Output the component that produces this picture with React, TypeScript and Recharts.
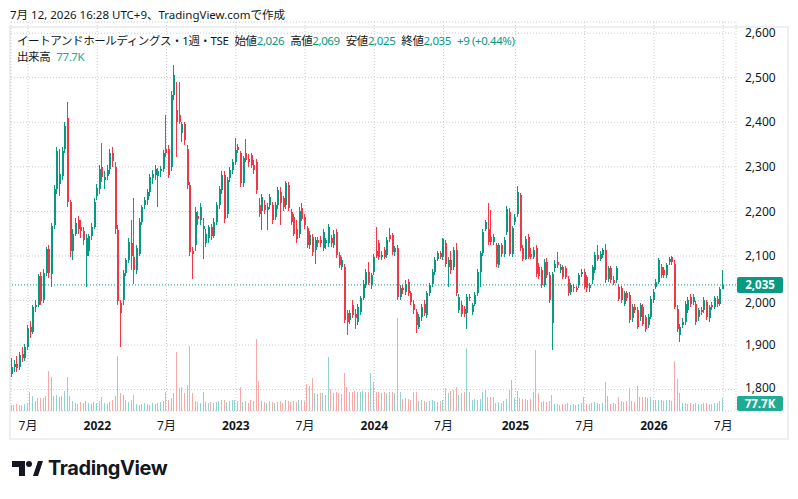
import React from 'react';
import { ComposedChart, Bar, XAxis, YAxis, CartesianGrid, ReferenceLine } from 'recharts';

// weekly bars, 2021-05-24 .. 2026-07-06
const opens = [
  1835, 1850, 1858, 1850, 1880, 1872, 1895, 1940, 1930, 1985,
  1990, 2055, 2000, 2062, 2115, 2060, 2170, 2250, 2262, 2280,
  2340, 2410, 2220, 2110, 2150, 2180, 2165, 2155, 2100, 2110,
  2145, 2165, 2235, 2250, 2300, 2270, 2280, 2295, 2330, 2300,
  2158, 1995, 2000, 2062, 2090, 2130, 2098, 2068, 2105, 2177,
  2214, 2225, 2244, 2275, 2281, 2280, 2290, 2296, 2341, 2341,
  2300, 2461, 2427, 2416, 2375, 2395, 2341, 2259, 2110, 2124,
  2190, 2180, 2160, 2128, 2140, 2165, 2145, 2177, 2215, 2248,
  2281, 2195, 2274, 2293, 2311, 2345, 2330, 2263, 2330, 2318,
  2326, 2304, 2311, 2215, 2200, 2214, 2203, 2214, 2214, 2188,
  2214, 2244, 2229, 2214, 2259, 2199, 2188, 2160, 2150, 2207,
  2188, 2162, 2124, 2143, 2113, 2135, 2135, 2117, 2128, 2130,
  2140, 2125, 2154, 2102, 2076, 2076, 1971, 1956, 1990, 1970,
  1952, 1975, 2005, 2034, 2064, 2035, 2064, 2110, 2128, 2098,
  2113, 2102, 2147, 2147, 2109, 2117, 2008, 2027, 2020, 2042,
  2016, 1993, 1975, 1941, 1963, 1993, 1967, 2016, 2038, 2064,
  2094, 2106, 2098, 2128, 2076, 2091, 2076, 2113, 1978, 1990,
  1980, 1971, 2008, 1975, 1993, 2016, 2064, 2106, 2161, 2161,
  2143, 2132, 2124, 2079, 2124, 2105, 2154, 2199, 2105, 2176,
  2195, 2236, 2117, 2094, 2143, 2105, 2098, 2117, 2075, 2068,
  2034, 2087, 2057, 1950, 2072, 2087, 2068, 2075, 2072, 2049,
  2019, 2031, 2027, 2034, 2060, 2064, 2053, 2027, 2045, 2068,
  2102, 2094, 2102, 2113, 2049, 2072, 2046, 2046, 2031, 2027,
  1993, 2016, 2012, 1960, 1986, 1978, 1963, 1986, 1963, 1945,
  1963, 2001, 2030, 2042, 2075, 2068, 2057, 2087, 2098, 2083,
  1982, 1922, 1945, 1952, 1978, 2008, 1997, 1993, 1963, 1978,
  1978, 1997, 1960, 1990, 1985, 2004, 1993, 2026,
];

const highs = [
  1870, 1866, 1875, 1885, 1895, 1902, 1945, 1955, 1990, 2000,
  2060, 2065, 2070, 2120, 2125, 2175, 2260, 2345, 2340, 2345,
  2400, 2445, 2225, 2160, 2185, 2190, 2180, 2165, 2150, 2150,
  2175, 2230, 2262, 2305, 2353, 2290, 2305, 2340, 2345, 2310,
  2170, 2000, 2068, 2095, 2140, 2180, 2229, 2125, 2185, 2215,
  2232, 2250, 2285, 2292, 2305, 2298, 2302, 2338, 2416, 2350,
  2470, 2528, 2490, 2490, 2400, 2400, 2350, 2265, 2120, 2210,
  2200, 2218, 2185, 2160, 2170, 2172, 2185, 2220, 2258, 2290,
  2290, 2278, 2300, 2318, 2364, 2352, 2335, 2325, 2362, 2328,
  2332, 2315, 2318, 2230, 2240, 2225, 2218, 2240, 2222, 2220,
  2255, 2255, 2235, 2268, 2265, 2205, 2195, 2180, 2210, 2218,
  2195, 2168, 2155, 2150, 2142, 2142, 2145, 2160, 2140, 2172,
  2148, 2158, 2160, 2108, 2098, 2082, 1978, 1978, 2000, 1980,
  1992, 2010, 2045, 2070, 2087, 2062, 2105, 2165, 2135, 2110,
  2120, 2142, 2162, 2152, 2122, 2125, 2035, 2035, 2045, 2048,
  2022, 2000, 1982, 1970, 1992, 2000, 2022, 2040, 2070, 2098,
  2112, 2112, 2141, 2135, 2098, 2112, 2120, 2130, 2015, 1998,
  1988, 2015, 2015, 1995, 2018, 2070, 2112, 2160, 2180, 2218,
  2203, 2150, 2130, 2130, 2130, 2142, 2212, 2208, 2168, 2195,
  2257, 2242, 2125, 2145, 2150, 2118, 2120, 2125, 2085, 2075,
  2092, 2095, 2065, 2065, 2090, 2109, 2082, 2080, 2078, 2055,
  2040, 2038, 2032, 2062, 2070, 2070, 2058, 2040, 2080, 2108,
  2124, 2112, 2118, 2126, 2078, 2078, 2055, 2078, 2038, 2032,
  2022, 2022, 2018, 1992, 1992, 1985, 1995, 1992, 1968, 1970,
  2010, 2025, 2048, 2096, 2082, 2075, 2085, 2098, 2100, 2090,
  1990, 1948, 1960, 1998, 2008, 2014, 2014, 1998, 1984, 1985,
  2008, 2002, 1990, 1996, 2010, 2010, 2030, 2069,
];

const lows = [
  1828, 1840, 1840, 1845, 1862, 1865, 1890, 1915, 1925, 1975,
  1985, 1990, 1995, 2055, 2050, 2030, 2160, 2240, 2235, 2270,
  2330, 2210, 2098, 2090, 2145, 2150, 2140, 2125, 2030, 2100,
  2135, 2160, 2225, 2240, 2265, 2250, 2270, 2285, 2300, 2150,
  1990, 1896, 1990, 2055, 2085, 2068, 2038, 2060, 2100, 2170,
  2205, 2215, 2235, 2262, 2270, 2210, 2278, 2288, 2322, 2275,
  2290, 2450, 2322, 2395, 2355, 2350, 2250, 2100, 2049, 2110,
  2170, 2170, 2094, 2120, 2130, 2135, 2140, 2170, 2205, 2240,
  2175, 2185, 2265, 2285, 2305, 2330, 2255, 2255, 2310, 2300,
  2298, 2285, 2240, 2188, 2158, 2195, 2158, 2205, 2172, 2180,
  2205, 2170, 2200, 2205, 2200, 2170, 2145, 2130, 2140, 2178,
  2160, 2118, 2115, 2100, 2083, 2120, 2120, 2110, 2115, 2120,
  2120, 2118, 2095, 2072, 2068, 1950, 1922, 1948, 1960, 1937,
  1945, 1968, 2000, 2028, 2035, 2025, 2058, 2095, 2090, 2090,
  2092, 2095, 2132, 2102, 2100, 2000, 2000, 2015, 2012, 2010,
  1990, 1970, 1926, 1935, 1955, 1965, 1960, 2010, 2030, 2058,
  2088, 2092, 2090, 2075, 2031, 2060, 2068, 2010, 1972, 1962,
  1962, 1937, 1998, 1968, 1988, 2010, 2030, 2100, 2155, 2125,
  2125, 2125, 2075, 2072, 2098, 2098, 2148, 2100, 2098, 2170,
  2188, 2110, 2088, 2090, 2092, 2092, 2092, 2052, 2048, 2028,
  2030, 2050, 1995, 1888, 2065, 2072, 2062, 2048, 2048, 2010,
  2012, 2020, 2018, 2028, 2052, 2025, 2020, 2020, 2038, 2062,
  2088, 2088, 2095, 2040, 2042, 2040, 2035, 2040, 1998, 1995,
  1988, 1998, 1950, 1952, 1972, 1935, 1955, 1942, 1930, 1938,
  1958, 1995, 2025, 2036, 2050, 2050, 2050, 2080, 2080, 1980,
  1930, 1907, 1938, 1946, 1972, 1986, 1990, 1945, 1955, 1968,
  1972, 1956, 1952, 1978, 1980, 1986, 1988, 2025,
];

const closes = [
  1850, 1858, 1848, 1878, 1872, 1895, 1938, 1930, 1985, 1990,
  2055, 1998, 2062, 2115, 2062, 2168, 2250, 2335, 2285, 2335,
  2392, 2220, 2110, 2150, 2175, 2160, 2155, 2135, 2140, 2145,
  2165, 2220, 2252, 2295, 2278, 2278, 2292, 2330, 2312, 2160,
  1998, 1972, 2062, 2090, 2132, 2100, 2068, 2117, 2177, 2210,
  2225, 2244, 2278, 2285, 2296, 2290, 2296, 2330, 2330, 2281,
  2461, 2505, 2401, 2401, 2395, 2360, 2259, 2109, 2105, 2199,
  2184, 2210, 2168, 2150, 2165, 2145, 2177, 2215, 2251, 2281,
  2184, 2270, 2293, 2311, 2337, 2337, 2263, 2319, 2315, 2310,
  2304, 2293, 2248, 2195, 2232, 2203, 2210, 2233, 2180, 2214,
  2248, 2218, 2210, 2263, 2207, 2177, 2150, 2139, 2200, 2184,
  2169, 2124, 2147, 2109, 2135, 2128, 2128, 2154, 2135, 2165,
  2128, 2150, 2102, 2080, 2091, 1956, 1952, 1971, 1967, 1960,
  1986, 2005, 2038, 2064, 2040, 2057, 2098, 2100, 2098, 2101,
  2098, 2135, 2139, 2109, 2117, 2008, 2027, 2023, 2038, 2016,
  1997, 1978, 1945, 1963, 1986, 1971, 2016, 2034, 2064, 2091,
  2106, 2098, 2139, 2083, 2091, 2068, 2113, 2016, 2008, 1970,
  1970, 2008, 2005, 1990, 2012, 2064, 2106, 2154, 2176, 2132,
  2132, 2143, 2083, 2124, 2105, 2135, 2206, 2105, 2162, 2188,
  2244, 2117, 2094, 2139, 2098, 2098, 2113, 2060, 2055, 2034,
  2087, 2057, 2001, 2060, 2083, 2079, 2075, 2053, 2053, 2016,
  2034, 2027, 2023, 2057, 2064, 2031, 2027, 2034, 2075, 2102,
  2094, 2105, 2113, 2046, 2072, 2046, 2040, 2072, 2004, 2001,
  2016, 2005, 1956, 1986, 1978, 1941, 1989, 1948, 1937, 1963,
  2004, 2019, 2042, 2090, 2057, 2057, 2079, 2094, 2087, 1986,
  1937, 1941, 1952, 1993, 2001, 1993, 2008, 1952, 1978, 1975,
  2001, 1963, 1985, 1985, 2005, 1993, 2026, 2035,
];

// volume in thousands of shares
const volumes = [
  40, 38, 42, 36, 40, 45, 48, 115, 95, 60,
  80, 78, 80, 90, 246, 210, 95, 100, 85, 95,
  125, 210, 90, 60, 50, 45, 55, 50, 60, 50,
  45, 55, 50, 60, 85, 50, 45, 55, 70, 90,
  342, 112, 100, 65, 55, 70, 100, 45, 40, 45,
  50, 45, 40, 50, 45, 50, 55, 60, 120, 70,
  80, 110, 366, 140, 150, 110, 160, 402, 112, 60,
  55, 50, 120, 55, 50, 55, 50, 55, 60, 65,
  70, 55, 60, 65, 70, 60, 145, 55, 60, 50,
  65, 60, 446, 186, 60, 55, 50, 60, 55, 50,
  55, 60, 50, 65, 60, 55, 60, 55, 70, 65,
  60, 168, 156, 204, 108, 105, 110, 108, 100, 336,
  138, 110, 115, 110, 105, 234, 150, 120, 115, 125,
  120, 115, 125, 120, 115, 234, 180, 115, 120, 110,
  115, 110, 120, 115, 110, 575, 115, 75, 80, 75,
  70, 115, 115, 60, 65, 60, 55, 60, 65, 60,
  55, 60, 65, 144, 110, 126, 130, 150, 100, 108,
  120, 390, 120, 70, 72, 70, 75, 120, 132, 84,
  84, 84, 50, 55, 50, 60, 75, 130, 192, 80,
  126, 80, 75, 75, 70, 75, 120, 378, 112, 55,
  60, 55, 60, 96, 42, 45, 40, 42, 45, 48,
  40, 42, 40, 45, 50, 84, 45, 42, 48, 55,
  50, 45, 50, 180, 90, 45, 48, 45, 84, 60,
  55, 60, 144, 60, 55, 156, 84, 84, 84, 80,
  84, 66, 66, 66, 66, 60, 66, 66, 60, 306,
  198, 108, 48, 50, 46, 48, 45, 50, 46, 44,
  48, 50, 46, 44, 48, 50, 60, 77.7,
];

const timeTicks = [6, 32, 58, 84, 110, 136, 162, 189, 215, 241, 267];
const timeLabels = ['7月', '2022', '7月', '2023', '7月', '2024', '7月', '2025', '7月', '2026', '7月'];
const priceTicks = [1800, 1900, 2000, 2100, 2200, 2300, 2400, 2500, 2600];

const lastPrice = 2035;
const lastVolume = 77.7;

const UP = '#089981';
const DOWN = '#f23645';
const VOL_UP = '#92d2cc';
const VOL_DOWN = '#f7a9a7';
const TEXT = '#131722';
const FONT = '"Noto Sans", "Noto Sans CJK JP", sans-serif';

const data = closes.map((c, i) => ({
  i,
  open: opens[i],
  high: highs[i],
  low: lows[i],
  close: c,
  range: [lows[i], highs[i]],
  volume: volumes[i],
}));

function Candle(props: any) {
  const { x, y, width, height, payload } = props;
  if (x == null || !payload) return null;
  const { open, close, high, low } = payload;
  const color = close >= open ? UP : DOWN;
  const cx = Math.round(x + width / 2);
  const span = high - low || 1;
  const yO = y + ((high - open) / span) * height;
  const yC = y + ((high - close) / span) * height;
  const top = Math.min(yO, yC);
  const h = Math.max(1, Math.abs(yO - yC));
  return (
    <g shapeRendering="crispEdges">
      <rect x={cx - 1} y={y} width={1} height={Math.max(1, height)} fill={color} />
      <rect x={cx - 1} y={top} width={2} height={h} fill={color} />
    </g>
  );
}

function VolumeBar(props: any) {
  const { x, y, width, height, payload } = props;
  if (x == null || !payload) return null;
  const color = payload.close >= payload.open ? VOL_UP : VOL_DOWN;
  const cx = Math.round(x + width / 2);
  return <rect x={cx - 1} y={y} width={1} height={Math.max(1, height)} fill={color} shapeRendering="crispEdges" />;
}

function TimeTick(props: any) {
  const { x, y, payload } = props;
  const idx = timeTicks.indexOf(payload.value);
  const label = idx >= 0 ? timeLabels[idx] : '';
  const bold = label !== '7月';
  return (
    <text x={x} y={y + 17} textAnchor="middle" fontSize={12} fontWeight={bold ? 700 : 400} fill={TEXT} fontFamily={FONT}>
      {label}
    </text>
  );
}

// right-axis price tick; the lowest label sits a little higher so it clears the volume tag
function PriceTick(props: any) {
  const { x, y, payload } = props;
  const dy = payload.value === priceTicks[0] ? -2 : payload.value === 2000 ? 2 : 0;
  return (
    <text x={x} y={y + dy + 4.2} textAnchor="start" fontSize={12} fill={TEXT} fontFamily={FONT}>
      {fmt(payload.value)}
    </text>
  );
}

function Tag(props: any) {
  const { viewBox, text, fill, pinBottom } = props;
  if (!viewBox) return null;
  const left = viewBox.x + viewBox.width + 1;
  let h = 16;
  let top = viewBox.y - 8;
  if (pinBottom != null) {
    h = 15;
    top = Math.max(top, pinBottom - h);
  }
  return (
    <g>
      <rect x={left} y={top} width={46} height={h} rx={2} fill={fill} />
      <text x={left + 23} y={top + h / 2 + 4} textAnchor="middle" fontSize={11.5} fontWeight={700} fill="#ffffff" fontFamily={FONT}>
        {text}
      </text>
    </g>
  );
}

const fmt = (v: number) => v.toLocaleString('en-US');

const legendRow: React.CSSProperties = {
  position: 'absolute',
  left: 17,
  fontSize: 11.5,
  lineHeight: '16px',
  letterSpacing: -0.4,
  whiteSpace: 'nowrap',
};

export default function App() {
  return (
    <div style={{ position: 'absolute', left: 0, top: 0, width: 798, height: 499, background: '#ffffff', fontFamily: FONT, color: TEXT }}>
      <div style={{ position: 'absolute', left: 9, top: 26, width: 776, height: 410, border: '2px solid #eeeff2' }} />
      <div style={{ position: 'absolute', left: 0, top: 0 }}>
        <ComposedChart width={798} height={499} data={data} margin={{ top: 22, right: 0, left: 11, bottom: 68 }}>
          <CartesianGrid stroke="#c9ccd3" strokeDasharray="1 2" />
          <XAxis
            type="number"
            dataKey="i"
            domain={[-0.4, 271.8]}
            allowDataOverflow
            ticks={timeTicks}
            interval={0}
            height={20}
            axisLine={false}
            tickLine={false}
            tickSize={0}
            tick={<TimeTick />}
          />
          <XAxis xAxisId="v" type="number" dataKey="i" domain={[-0.4, 271.8]} allowDataOverflow hide />
          <YAxis
            orientation="right"
            type="number"
            domain={[1752, 2625]}
            allowDataOverflow
            ticks={priceTicks}
            interval={0}
            width={62}
            axisLine={false}
            tickLine={false}
            tickSize={6}
            tickMargin={3}
            tick={<PriceTick />}
          />
          <YAxis yAxisId="vol" type="number" domain={[0, 2400]} allowDataOverflow hide />
          <Bar
            dataKey="volume"
            xAxisId="v"
            yAxisId="vol"
            barSize={2}
            shape={(p: any) => <VolumeBar {...p} />}
            isAnimationActive={false}
          />
          <Bar dataKey="range" barSize={3} shape={(p: any) => <Candle {...p} />} isAnimationActive={false} />
          <ReferenceLine
            y={lastPrice}
            stroke={UP}
            strokeDasharray="1 2"
            label={<Tag text={fmt(lastPrice)} fill={UP} />}
          />
          <ReferenceLine
            yAxisId="vol"
            y={lastVolume}
            stroke="none"
            label={<Tag text={`${lastVolume}K`} fill="#22ab94" pinBottom={411} />}
          />
        </ComposedChart>
      </div>

      <div style={{ position: 'absolute', left: 10, top: 7, fontSize: 11.5, lineHeight: '16px', whiteSpace: 'nowrap' }}>
        7月 12, 2026 16:28 UTC+9、TradingView.comで作成
      </div>
      <div style={{ ...legendRow, top: 33 }}>
        <span>イートアンドホールディングス・1週・TSE</span>
        <span style={{ marginLeft: 6 }}>始値</span><span style={{ color: UP }}>2,026</span>
        <span style={{ marginLeft: 6 }}>高値</span><span style={{ color: UP }}>2,069</span>
        <span style={{ marginLeft: 6 }}>安値</span><span style={{ color: UP }}>2,025</span>
        <span style={{ marginLeft: 6 }}>終値</span><span style={{ color: UP }}>2,035</span>
        <span style={{ marginLeft: 6, color: UP }}>+9 (+0.44%)</span>
      </div>
      <div style={{ ...legendRow, top: 49 }}>
        出来高<span style={{ color: '#22ab94', marginLeft: 6 }}>77.7K</span>
      </div>

      <svg style={{ position: 'absolute', left: 10, top: 458 }} width={34} height={22}>
        <path d="M2 3 H15 V18 H9 V9 H2 Z" fill="#131722" />
        <circle cx={19} cy={6} r={3} fill="#131722" />
        <path d="M23 18 L28 3 H33 L28 18 Z" fill="#131722" />
      </svg>
      <div style={{ position: 'absolute', left: 48, top: 456, fontSize: 20, fontWeight: 700, fontFamily: 'Inter, "Noto Sans", sans-serif', letterSpacing: -0.4 }}>
        TradingView
      </div>
    </div>
  );
}
